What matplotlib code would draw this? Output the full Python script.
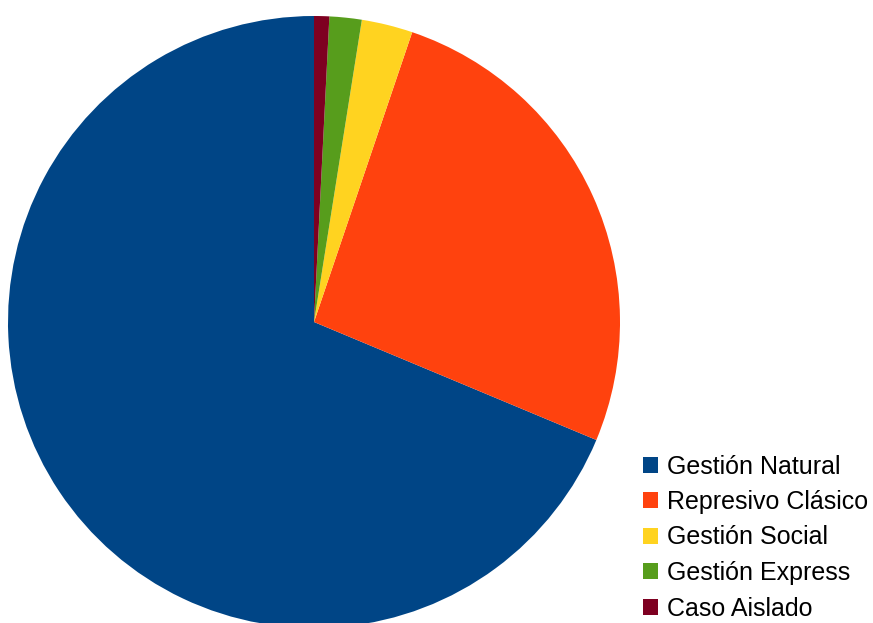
import matplotlib.pyplot as plt
from matplotlib.patches import Patch

labels = ["Gestión Natural", "Represivo Clásico", "Gestión Social", "Gestión Express", "Caso Aislado"]
values = [68.7, 26.1, 2.7, 1.7, 0.8]
colors = ["#004586", "#ff420e", "#ffd320", "#579d1c", "#7e0021"]

W, H = 873, 623
fig = plt.figure(figsize=(W / 100, H / 100), dpi=100)

# pie centre (314, 322) px, radius 306 px
cx, cy, r = 314, 322, 306
ax = fig.add_axes([(cx - r) / W, (H - cy - r) / H, 2 * r / W, 2 * r / H])
ax.pie(values, colors=colors, startangle=90, counterclock=True, radius=1,
       wedgeprops=dict(linewidth=0))
ax.set_xlim(-1, 1)
ax.set_ylim(-1, 1)
ax.set_aspect("auto")
ax.axis("off")

handles = [Patch(facecolor=c, edgecolor="none") for c in colors]
fig.legend(handles, labels, loc="center left", bbox_to_anchor=(643 / W, (H - 537.5) / H),
           frameon=False, borderpad=0, borderaxespad=0,
           prop=dict(family="Liberation Sans", size=18),
           handlelength=0.6, handleheight=0.6, handletextpad=0.36,
           labelspacing=0.46)

fig.savefig("out.png", dpi=100)
